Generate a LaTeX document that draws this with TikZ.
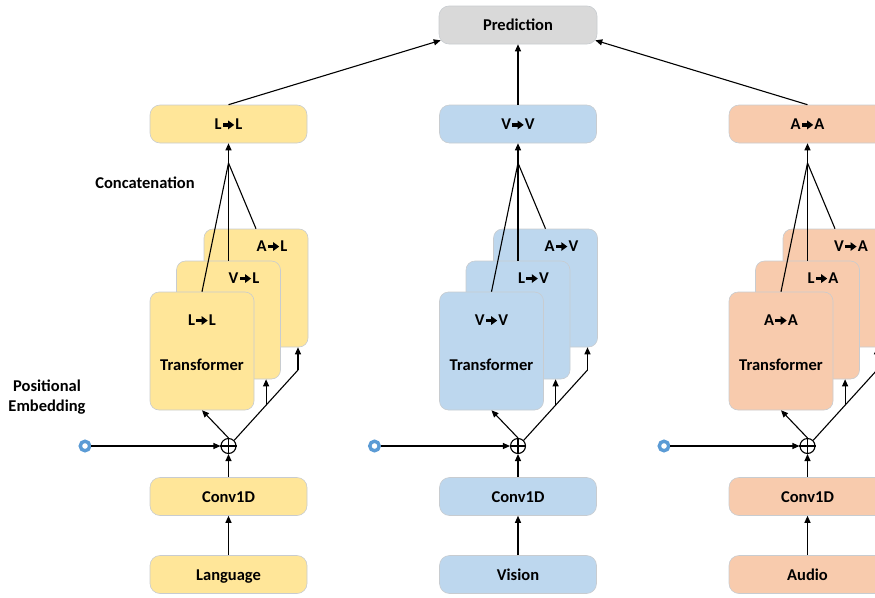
\documentclass[tikz,border=0pt]{standalone}
\usepackage{fontspec}
\setmainfont{Carlito}
\usetikzlibrary{arrows.meta,calc}
\definecolor{cyel}{HTML}{FFE699}
\definecolor{cblu}{HTML}{BDD7EE}
\definecolor{cora}{HTML}{F8CBAD}
\definecolor{cgry}{HTML}{D9D9D9}
\definecolor{cpe}{HTML}{5B9BD5}
\definecolor{cedge}{HTML}{C8CCD0}
\newcommand{\rar}{\hspace{1.2pt}\tikz[x=1pt,y=1pt,baseline=0pt,sharp corners]{\fill[black] (0,3.0) rectangle (6,6.6); \fill[black] (5.4,0.4) -- (11.4,4.8) -- (5.4,9.2) -- cycle;}\hspace{1.2pt}}
\tikzset{
 txt/.style={font=\fontsize{16.5}{20}\selectfont\bfseries},
 pill/.style={txt, rectangle, rounded corners=10pt, minimum width=157pt, minimum height=38pt, inner sep=0pt, text height=12pt, text depth=0.6pt, draw=cedge, line width=0.6pt},
 stk/.style={rectangle, rounded corners=9pt, minimum width=104pt, minimum height=118pt, inner sep=0pt, draw=cedge, line width=0.6pt},
 lbl/.style={txt, inner sep=0pt},
 arr/.style={-{Triangle[length=7pt,width=6pt]}, line width=1.1pt},
 ln/.style={line width=1.1pt},
 plus/.style={circle, draw, line width=1.1pt, minimum size=15pt, inner sep=0pt},
 pe/.style={circle, draw=cpe, fill=white, line width=3.4pt, minimum size=9.5pt, inner sep=0pt},
}
\newcommand{\modcol}[8]{%
\begin{scope}[xshift=#1]
\node[pill, fill=#2] (#3top) at (228.5,124) {#4};
\node[stk, fill=#2] (#3back) at (256,288) {};
\node[stk, fill=#2] (#3mid) at (228.5,320) {};
\node[stk, fill=#2] (#3front) at (202,351) {};
\node[lbl] (#3lb) at (272,246) {#7};
\node[lbl] (#3lm) at (244,278) {#6};
\node[lbl] (#3lf) at (202,320) {#5};
\node[lbl] (#3tf) at (202,365) {Transformer};
\coordinate (#3cv) at (228.5,163);
\draw[arr] (#3cv) -- (#3top.south);
\draw[ln] (#3cv) -- (#3front.north);
\draw[ln] (#3cv) -- (#3mid.north);
\draw[ln] (#3cv) -- (#3back.north);
\node[plus] (#3plus) at (228.5,446) {};
\draw[ln] (#3plus.north) -- (#3plus.south) (#3plus.west) -- (#3plus.east);
\node[pill, fill=#2] (#3conv) at (228.5,496.5) {Conv1D};
\node[pill, fill=#2] (#3in) at (228.5,574.5) {#8};
\node[pe] (#3pe) at (85,446) {};
\draw[arr] (#3in.north) -- (#3conv.south);
\draw[arr] (#3conv.north) -- (#3plus.south);
\draw[arr] (#3plus.north) -- (#3front.south);
\draw[arr] (#3pe) -- (#3plus.west);
\coordinate (#3d) at (298,370);
\draw[ln] (#3plus.45) -- (#3d);
\draw[arr] (#3d) -- (#3d |- #3back.south);
\coordinate (#3e) at ($(#3plus.45)!0.5!(#3d)$);
\draw[arr] (#3e) -- (#3e |- #3mid.south);
\end{scope}}
\begin{document}
\begin{tikzpicture}[x=1pt,y=-1pt]
\useasboundingbox (0,0) rectangle (875,597);
\clip (0,0) rectangle (875,597);
\node[pill, fill=cgry, minimum width=158pt] (pred) at (518,25) {Prediction};
\modcol{0pt}{cyel}{l}{L\rar L}{L\rar L}{V\rar L}{A\rar L}{Language}
\modcol{289.5pt}{cblu}{v}{V\rar V}{V\rar V}{L\rar V}{A\rar V}{Vision}
\modcol{579pt}{cora}{a}{A\rar A}{A\rar A}{L\rar A}{V\rar A}{Audio}
\draw[arr] (ltop.north) -- ([shift={(2,-4)}]pred.south west);
\draw[arr] (vtop.north) -- (pred.south);
\draw[arr] (atop.north) -- ([shift={(-2,-4)}]pred.south east);
\node[lbl] (concat) at (145,183) {Concatenation};
\node[lbl, align=center] (posemb) at (47,397) {Positional\\Embedding};
\end{tikzpicture}
\end{document}
